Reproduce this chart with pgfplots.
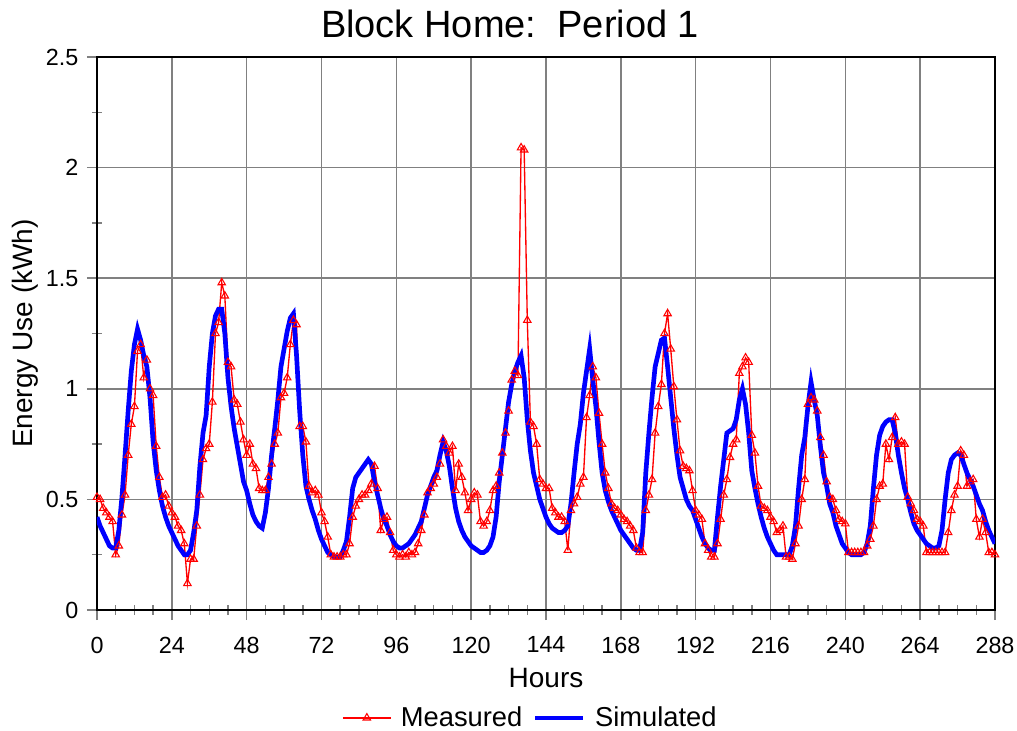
\documentclass[border=0pt]{standalone}
\usepackage{pgfplots}
\pgfplotsset{compat=1.18}
\usepackage{pgfplotstable}
\usepackage{fontspec}
\setmainfont{Liberation Sans}
\definecolor{gridgray}{RGB}{128,128,128}

% hourly energy use, measured and simulated
\pgfplotstableread{
h meas sim
0 0.51 0.42
1 0.50 0.38
2 0.46 0.35
3 0.44 0.32
4 0.42 0.29
5 0.40 0.28
6 0.25 0.28
7 0.29 0.36
8 0.43 0.51
9 0.52 0.70
10 0.70 0.90
11 0.84 1.08
12 0.92 1.20
13 1.17 1.27
14 1.20 1.22
15 1.05 1.15
16 1.13 1.10
17 1.00 0.96
18 0.97 0.76
19 0.74 0.63
20 0.60 0.54
21 0.51 0.47
22 0.52 0.42
23 0.47 0.38
24 0.44 0.35
25 0.42 0.32
26 0.38 0.29
27 0.36 0.27
28 0.30 0.25
29 0.12 0.25
30 0.23 0.27
31 0.23 0.35
32 0.38 0.45
33 0.52 0.65
34 0.68 0.80
35 0.73 0.88
36 0.75 1.10
37 0.94 1.25
38 1.25 1.33
39 1.30 1.36
40 1.48 1.36
41 1.42 1.25
42 1.12 1.05
43 1.10 0.92
44 0.95 0.82
45 0.93 0.74
46 0.85 0.66
47 0.77 0.58
48 0.70 0.54
49 0.75 0.48
50 0.66 0.43
51 0.64 0.40
52 0.55 0.38
53 0.54 0.37
54 0.54 0.44
55 0.60 0.55
56 0.66 0.70
57 0.75 0.82
58 0.80 0.95
59 0.96 1.10
60 0.98 1.18
61 1.05 1.26
62 1.20 1.32
63 1.31 1.34
64 1.29 1.15
65 0.83 0.90
66 0.83 0.70
67 0.76 0.56
68 0.56 0.50
69 0.53 0.45
70 0.54 0.41
71 0.52 0.36
72 0.44 0.32
73 0.40 0.29
74 0.33 0.26
75 0.25 0.25
76 0.24 0.24
77 0.24 0.24
78 0.24 0.24
79 0.25 0.27
80 0.25 0.31
81 0.30 0.42
82 0.42 0.55
83 0.47 0.60
84 0.50 0.62
85 0.52 0.64
86 0.52 0.66
87 0.54 0.68
88 0.57 0.66
89 0.65 0.58
90 0.55 0.52
91 0.36 0.46
92 0.41 0.41
93 0.42 0.38
94 0.35 0.34
95 0.27 0.31
96 0.25 0.29
97 0.24 0.28
98 0.25 0.28
99 0.24 0.29
100 0.26 0.30
101 0.25 0.32
102 0.26 0.34
103 0.30 0.37
104 0.36 0.40
105 0.43 0.46
106 0.53 0.52
107 0.55 0.56
108 0.57 0.60
109 0.60 0.63
110 0.66 0.70
111 0.77 0.76
112 0.74 0.72
113 0.71 0.65
114 0.74 0.55
115 0.54 0.46
116 0.66 0.40
117 0.60 0.36
118 0.53 0.33
119 0.45 0.31
120 0.50 0.29
121 0.53 0.28
122 0.52 0.27
123 0.40 0.26
124 0.38 0.26
125 0.40 0.27
126 0.45 0.29
127 0.54 0.33
128 0.56 0.42
129 0.62 0.58
130 0.71 0.70
131 0.80 0.82
132 0.90 0.94
133 1.04 1.02
134 1.08 1.08
135 1.06 1.12
136 2.09 1.15
137 2.08 1.05
138 1.31 0.86
139 0.85 0.72
140 0.83 0.62
141 0.75 0.56
142 0.59 0.50
143 0.57 0.46
144 0.55 0.42
145 0.55 0.39
146 0.46 0.37
147 0.44 0.36
148 0.42 0.35
149 0.42 0.35
150 0.40 0.36
151 0.27 0.38
152 0.45 0.48
153 0.48 0.62
154 0.51 0.75
155 0.57 0.84
156 0.60 0.98
157 0.87 1.08
158 0.97 1.18
159 1.10 1.04
160 1.05 0.92
161 0.89 0.76
162 0.75 0.62
163 0.62 0.54
164 0.55 0.49
165 0.48 0.45
166 0.46 0.42
167 0.45 0.39
168 0.43 0.36
169 0.41 0.34
170 0.40 0.32
171 0.38 0.30
172 0.36 0.28
173 0.28 0.27
174 0.26 0.27
175 0.26 0.35
176 0.45 0.62
177 0.52 0.80
178 0.59 0.96
179 0.80 1.10
180 0.92 1.16
181 1.02 1.22
182 1.25 1.23
183 1.34 1.10
184 1.18 0.96
185 1.01 0.82
186 0.86 0.70
187 0.72 0.60
188 0.65 0.55
189 0.64 0.50
190 0.63 0.47
191 0.54 0.45
192 0.45 0.41
193 0.43 0.37
194 0.41 0.33
195 0.30 0.30
196 0.27 0.28
197 0.24 0.27
198 0.24 0.27
199 0.30 0.42
200 0.41 0.56
201 0.52 0.68
202 0.59 0.80
203 0.69 0.81
204 0.75 0.82
205 0.77 0.86
206 1.07 0.95
207 1.10 1.00
208 1.14 0.93
209 1.12 0.80
210 0.79 0.63
211 0.71 0.55
212 0.56 0.48
213 0.47 0.42
214 0.46 0.37
215 0.45 0.33
216 0.42 0.30
217 0.40 0.27
218 0.35 0.25
219 0.36 0.25
220 0.38 0.25
221 0.24 0.25
222 0.24 0.25
223 0.23 0.29
224 0.30 0.38
225 0.38 0.55
226 0.50 0.70
227 0.59 0.78
228 0.93 0.92
229 0.96 1.03
230 0.95 0.95
231 0.90 0.88
232 0.78 0.74
233 0.70 0.62
234 0.58 0.56
235 0.51 0.48
236 0.50 0.44
237 0.45 0.38
238 0.41 0.34
239 0.40 0.30
240 0.39 0.28
241 0.26 0.26
242 0.26 0.25
243 0.26 0.25
244 0.26 0.25
245 0.26 0.25
246 0.26 0.26
247 0.29 0.30
248 0.32 0.38
249 0.38 0.55
250 0.50 0.70
251 0.56 0.79
252 0.57 0.83
253 0.75 0.85
254 0.68 0.86
255 0.78 0.86
256 0.87 0.80
257 0.75 0.70
258 0.76 0.62
259 0.75 0.55
260 0.51 0.50
261 0.48 0.44
262 0.45 0.39
263 0.41 0.36
264 0.40 0.34
265 0.38 0.32
266 0.26 0.30
267 0.26 0.29
268 0.26 0.28
269 0.26 0.28
270 0.26 0.29
271 0.26 0.36
272 0.26 0.50
273 0.35 0.62
274 0.45 0.68
275 0.52 0.70
276 0.56 0.71
277 0.72 0.70
278 0.70 0.66
279 0.56 0.62
280 0.58 0.59
281 0.59 0.56
282 0.41 0.52
283 0.33 0.48
284 0.41 0.45
285 0.35 0.40
286 0.26 0.36
287 0.26 0.33
288 0.25 0.30
}\energy

\begin{document}
\begin{tikzpicture}
\begin{axis}[
  scale only axis,
  width=673.5pt, height=414.75pt,
  xmin=0, xmax=288, ymin=0, ymax=2.5,
  xtick={0,24,48,72,96,120,144,168,192,216,240,264,288},
  ytick={0,0.5,1,1.5,2,2.5},
  minor x tick num=3, minor y tick num=1,
  xtick pos=lower, ytick pos=left,
  grid=major,
  major grid style={gridgray, line width=1.1pt},
  tick align=center,
  major tick length=15pt, minor tick length=7.5pt,
  tick style={gridgray, line width=1.1pt},
  axis line style={black, line width=1.6pt},
  /pgf/number format/assume math mode=true,
  ticklabel style={font=\fontsize{17.5}{20}\selectfont},
  xticklabel style={yshift=-9pt},
  yticklabel style={xshift=-3pt},
  title={Block Home:\ \ Period 1},
  title style={font=\fontsize{28.5}{31}\selectfont, at={(axis description cs:0.46,1.020)}, anchor=base},
  xlabel={Hours},
  xlabel style={font=\fontsize{21}{24}\selectfont, at={(axis description cs:0.5,-0.141)}, anchor=base},
  ylabel={Energy Use (kWh)},
  ylabel style={font=\fontsize{21}{24}\selectfont, at={(axis description cs:-0.0713,0.5)}, anchor=base},
  legend columns=2,
  legend style={at={(axis description cs:0.483,-0.195)}, anchor=center, draw=none,
    font=\fontsize{20.5}{23}\selectfont,
    /tikz/every odd column/.append style={column sep=5pt},
    /tikz/every even column/.append style={column sep=6pt}},
  legend image code/.code={\draw[mark repeat=2, mark phase=2, #1] plot coordinates {(0pt,0pt) (18pt,0pt) (36pt,0pt)};},
]
\addplot[red, line width=1pt, mark=triangle, mark size=3.2pt, mark options={solid, line width=0.8pt}]
  table[x=h, y=meas] {\energy};
\addlegendentry{Measured}
\addplot[blue, line width=3.5pt, no marks]
  table[x=h, y=sim] {\energy};
\addlegendentry{Simulated}
\end{axis}
\pgfresetboundingbox
\path[use as bounding box] ([shift={(-72.75pt,-90.75pt)}]current axis.south west)
  rectangle ([shift={(16.5pt,42.75pt)}]current axis.north east);
\end{tikzpicture}
\end{document}
